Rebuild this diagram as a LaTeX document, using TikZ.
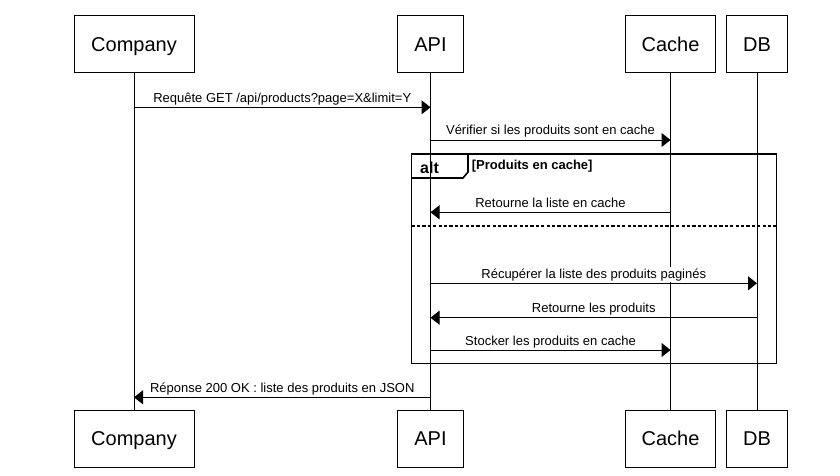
\documentclass[tikz,border=0pt]{standalone}
\usepackage{fontspec}
\setmainfont{Liberation Sans}
\usetikzlibrary{arrows.meta}
\begin{document}
\begin{tikzpicture}[x=1pt,y=-1pt,
  actor/.style={draw,line width=1pt,minimum height=56.7pt,inner sep=0pt,
    text height=14.3pt,text depth=0pt,
    font=\fontsize{20}{24}\selectfont},
  lifeline/.style={line width=1pt},
  msg/.style={line width=1pt,-{Triangle[length=9pt,width=14pt]}},
  msglabel/.style={fill=white,inner xsep=1pt,inner ysep=1.5pt,anchor=base,
    yshift=5pt,font=\fontsize{13}{15}\selectfont},
  fragment/.style={line width=1.6pt},
  fragtitle/.style={font=\bfseries\fontsize{16}{18}\selectfont,anchor=base west,inner sep=0pt},
  guard/.style={font=\bfseries\fontsize{13}{15}\selectfont,anchor=base west,inner sep=0pt}]
\useasboundingbox (0,0) rectangle (840,476);

% participants, top and bottom
\node[actor,minimum width=120pt] (compT) at (134,44.3) {Company};
\node[actor,minimum width=65.6pt] (apiT) at (430.5,44.3) {API};
\node[actor,minimum width=90.3pt] (cacheT) at (670.5,44.3) {Cache};
\node[actor,minimum width=61.4pt] (dbT) at (757,44.3) {DB};
\node[actor,minimum width=120pt] (compB) at (134,438.7) {Company};
\node[actor,minimum width=65.6pt] (apiB) at (430.5,438.7) {API};
\node[actor,minimum width=90.3pt] (cacheB) at (670.5,438.7) {Cache};
\node[actor,minimum width=61.4pt] (dbB) at (757,438.7) {DB};

% lifelines
\draw[lifeline] (compT) -- (compB);
\draw[lifeline] (apiT) -- (apiB);
\draw[lifeline] (cacheT) -- (cacheB);
\draw[lifeline] (dbT) -- (dbB);

% message rows
\coordinate (r1) at (0,107.3);
\coordinate (r2) at (0,140);
\coordinate (r3) at (0,212.3);
\coordinate (r4) at (0,283.3);
\coordinate (r5) at (0,317.7);
\coordinate (r6) at (0,350);
\coordinate (r7) at (0,397.3);

% alt fragment
\coordinate (fragNW) at (411.5,154);
\coordinate (fragSE) at (776.5,363.3);
\coordinate (sep) at (0,226);
\draw[fragment] (fragNW) rectangle (fragSE);
\draw[fragment] (fragNW |- 0,178) -- (463,178) -- (468,172) -- (468,154);
\node[fragtitle] (altlbl) at (420,173.3) {alt};
\node[guard] (guardlbl) at (471.7,169.3) {[Produits en cache]};
\draw[fragment,dash pattern=on 3.2pt off 2.2pt] (fragNW |- sep) -- (fragSE |- sep);

% messages
\draw[msg] (compT |- r1) -- node[msglabel] {Requête GET /api/products?page=X\&limit=Y} (apiT |- r1);
\draw[msg] (apiT |- r2) -- node[msglabel] {Vérifier si les produits sont en cache} (cacheT |- r2);
\draw[msg] (cacheT |- r3) -- node[msglabel] {Retourne la liste en cache} (apiT |- r3);
\draw[msg] (apiT |- r4) -- node[msglabel] {Récupérer la liste des produits paginés} (dbT |- r4);
\draw[msg] (dbT |- r5) -- node[msglabel] {Retourne les produits} (apiT |- r5);
\draw[msg] (apiT |- r6) -- node[msglabel] {Stocker les produits en cache} (cacheT |- r6);
\draw[msg] (apiT |- r7) -- node[msglabel] {Réponse 200 OK : liste des produits en JSON} (compT |- r7);
\end{tikzpicture}
\end{document}
